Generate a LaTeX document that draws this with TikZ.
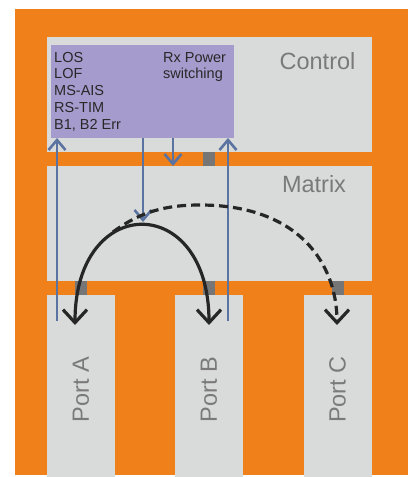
\documentclass[tikz,border=0pt]{standalone}
\usepackage{fontspec}
\setmainfont{Liberation Sans}
\usetikzlibrary{arrows.meta}
\definecolor{orangebg}{RGB}{240,128,25}
\definecolor{panel}{RGB}{217,219,218}
\definecolor{lilac}{RGB}{166,155,205}
\definecolor{linkblue}{RGB}{91,115,160}
\definecolor{squaregray}{RGB}{118,118,118}
\definecolor{labelgray}{RGB}{122,122,122}
\definecolor{inktext}{RGB}{40,40,40}
\definecolor{arcblack}{RGB}{38,38,38}
\begin{document}
\begin{tikzpicture}[x=1pt,y=-1pt,
  panelbox/.style={fill=panel, draw=none, inner sep=0pt, outer sep=0pt},
  portbox/.style={panelbox, minimum width=68pt, minimum height=182pt},
  joint/.style={fill=squaregray, draw=none, inner sep=0pt, outer sep=0pt, minimum width=12pt, minimum height=14pt},
  biglabel/.style={text=labelgray, inner sep=0pt, font=\fontsize{23.5}{28}\selectfont},
  smalltext/.style={text=inktext, inner sep=0pt, align=left, font=\fontsize{14.5}{16.75}\selectfont},
  bluelink/.style={draw=linkblue, line width=2.6pt, -{Straight Barb[length=10pt,width=17pt]}},
  swaparc/.style={draw=arcblack, line width=3.2pt}
]
\useasboundingbox (0,0) rectangle (408,477);
\fill[orangebg] (15,9) rectangle (408,475);
% panels
\node[panelbox, minimum width=325pt, minimum height=115pt] (control) at (209.5,94.5) {};
\node[panelbox, minimum width=325pt, minimum height=115pt] (matrix) at (209.5,223.5) {};
\node[fill=lilac, draw=none, inner sep=0pt, outer sep=0pt, minimum width=183pt, minimum height=93pt] (monitor) at (142.5,91.5) {};
\node[portbox] (portA) at (81,386) {};
\node[portbox] (portB) at (209,386) {};
\node[portbox] (portC) at (338,386) {};
% joints
\node[joint] (jctl) at (209,159) {};
\node[joint] (jA) at (81,288) {};
\node[joint] (jB) at (209,288) {};
\node[joint] (jC) at (338,288) {};
% labels
\node[biglabel, anchor=base] (controlLabel) at (317.5,69) {Control};
\node[biglabel, anchor=base] (matrixLabel) at (314,192) {Matrix};
\node[biglabel, rotate=90] (portALabel) at (81,389.5) {Port A};
\node[biglabel, rotate=90] (portBLabel) at (209,389.5) {Port B};
\node[biglabel, rotate=90] (portCLabel) at (337.5,389.5) {Port C};
\node[smalltext, anchor=base west] (alarms) at (54,129) {LOS\\LOF\\MS-AIS\\RS-TIM\\B1, B2 Err};
\node[smalltext, anchor=base west] (rxpower) at (163,78.75) {Rx Power\\switching};
% blue signal lines
\coordinate (srcA) at (57,321);
\coordinate (srcB) at (228,321);
\coordinate (cmdM) at (143,222);
\coordinate (cmdX) at (173,166);
\draw[bluelink] (srcA) -- (srcA |- monitor.south);
\draw[bluelink] (srcB) -- (srcB |- monitor.south);
\draw[bluelink] (cmdM |- monitor.south) -- (cmdM);
\draw[bluelink] (cmdX |- monitor.south) -- (cmdX |- matrix.north);
% switching arcs
\coordinate (tipA) at (75,325);
\coordinate (tipB) at (209,325);
\coordinate (tipC) at (337,325);
\coordinate (fork) at (113,232);
\coordinate (crest) at (200,205);
\draw[swaparc, {Straight Barb[length=13pt,width=24pt]}-{Straight Barb[length=13pt,width=24pt]}]
  (tipA) .. controls (75,192) and (209,192) .. (tipB);
\draw[swaparc, dash pattern=on 9pt off 5pt, -{Straight Barb[length=13pt,width=24pt]}]
  (fork) .. controls (140,212) and (165,205) .. (crest) .. controls (300,205) and (337,265) .. (tipC);
\end{tikzpicture}
\end{document}
